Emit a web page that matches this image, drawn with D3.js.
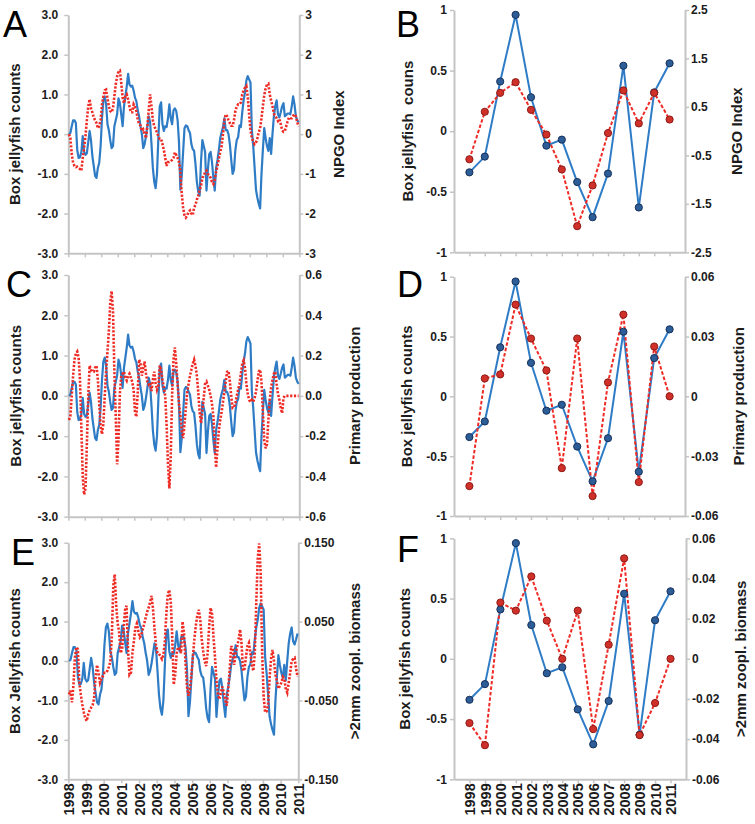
<!DOCTYPE html>
<html><head><meta charset="utf-8">
<script src="https://cdn.jsdelivr.net/npm/d3@7"></script>
<style>
body{margin:0;background:#fff}
svg text{font-family:"Liberation Sans",Arial,Helvetica,sans-serif}
</style></head><body>
<svg id="chart" width="755" height="824"></svg>
<script>
// ---------- DATA ----------
const years = [1998,1999,2000,2001,2002,2003,2004,2005,2006,2007,2008,2009,2010,2011];
const yearLabels = ["1998","1999","2000","2001","2002","2003","2004","2005","2006","2007","2008","2009","2010","2011"];

// annual means
const jellyAnnual = [-0.34,-0.21,0.41,0.96,0.28,-0.12,-0.07,-0.42,-0.71,-0.35,0.54,-0.63,0.32,0.56];
const npgoAnnual  = [-0.58,0.40,0.79,1.01,0.44,-0.07,-0.79,-1.96,-1.12,-0.04,0.84,0.16,0.79,0.24];
const ppAnnual    = [-0.045,0.009,0.011,0.046,0.029,0.013,-0.036,0.029,-0.050,0.007,0.041,-0.043,0.025,0.0];
const zooAnnual   = [-0.032,-0.043,0.028,0.024,0.041,0.019,0.0,0.024,-0.035,0.007,0.050,-0.038,-0.022,0.0];

// monthly anomalies, Jan 1998 - Dec 2011
const jellyMonthly = [
 0.0,0.03,0.2,0.35,0.35,0.28,-0.4,-0.6,-0.58,-0.45,-0.05,-0.45,
 -0.52,-0.48,-0.2,0.08,-0.15,-0.55,-0.8,-1.05,-1.1,-0.85,-0.72,-0.3,
 0.4,0.85,0.95,0.75,0.25,0.1,-0.15,-0.35,-0.3,0.2,0.35,0.5,
 0.9,0.78,0.5,0.2,0.7,0.95,1.2,1.52,1.25,1.2,1.22,1.1,
 0.92,0.83,0.6,0.45,0.2,0.0,-0.35,-0.25,-0.05,0.2,0.45,0.3,
 -0.25,-0.85,-1.2,-1.36,-1.0,-0.1,0.7,0.8,0.25,0.08,0.2,0.18,
 0.4,0.75,0.4,0.25,0.6,0.65,0.58,0.35,-0.2,-1.4,-1.05,-0.45,
 0.15,0.22,0.2,0.1,0.03,-0.25,-0.38,-0.42,-0.75,-1.2,-1.45,-1.55,
 -0.7,-0.15,-0.3,-0.45,-1.42,-0.9,-0.5,-0.45,-0.7,-1.1,-1.42,-0.85,
 -0.65,-0.4,-0.1,0.05,0.17,0.4,0.1,0.1,0.0,-0.25,-0.65,-1.0,
 -0.9,-0.4,-0.15,-0.08,0.22,0.18,0.55,0.85,1.05,1.35,1.46,1.38,
 1.3,0.1,-0.3,-0.85,-1.4,-1.6,-1.75,-1.87,-1.0,-0.4,0.15,-0.1,
 -0.3,-0.42,-0.1,-0.5,0.0,0.45,0.7,0.85,0.5,0.42,0.55,0.7,
 0.78,0.45,0.48,0.52,0.52,0.5,0.7,0.95,0.75,0.45,0.35,0.3
];
const npgoMonthly = [
 0.0,-0.1,-0.5,-0.72,-0.8,-0.83,-0.82,-0.85,-0.88,-0.92,-0.6,-0.35,
 -0.05,0.35,0.7,0.88,0.65,0.55,0.42,0.35,0.28,0.15,0.2,0.35,
 0.75,0.95,1.1,1.12,0.9,0.7,0.58,0.55,0.65,0.95,1.25,1.45,
 1.58,1.6,1.3,0.92,0.78,0.95,1.0,0.88,0.7,0.55,0.55,0.75,
 0.68,0.58,0.38,0.25,0.22,0.08,0.12,0.0,-0.1,0.2,0.6,1.0,
 0.7,0.35,0.2,0.12,0.04,-0.06,-0.12,-0.12,-0.25,-0.4,-0.6,-0.8,
 -0.7,-0.7,-0.68,-0.65,-0.6,-0.46,-0.52,-0.6,-0.7,-0.95,-1.5,-1.85,
 -2.04,-2.1,-2.05,-1.95,-1.92,-2.0,-2.04,-1.85,-1.78,-1.65,-1.55,-1.42,
 -1.3,-1.1,-1.05,-0.95,-0.92,-1.0,-1.04,-1.1,-1.2,-1.25,-1.15,-0.95,
 -0.8,-0.62,-0.45,-0.3,0.0,0.35,0.5,0.45,0.35,0.28,0.21,0.21,
 0.35,0.58,0.7,0.75,0.75,0.8,1.0,1.1,1.17,1.21,0.95,0.5,
 0.1,-0.1,-0.18,-0.25,-0.21,-0.1,0.05,0.15,0.4,0.7,0.98,1.15,
 1.25,1.27,1.0,0.85,0.7,0.52,0.45,0.4,0.33,0.38,0.25,0.1,
 0.06,0.08,0.2,0.32,0.42,0.4,0.4,0.46,0.5,0.45,0.3,0.2
];
const ppMonthly = [
 -0.12,-0.10,0.0,0.10,0.18,0.21,0.22,0.19,0.08,-0.16,-0.40,-0.49,
 -0.46,-0.24,0.0,0.15,0.13,0.12,0.12,0.14,0.15,0.08,-0.04,-0.15,
 -0.19,-0.14,0.0,0.12,0.22,0.32,0.46,0.52,0.42,0.12,-0.10,-0.34,
 -0.22,0.01,0.10,0.11,0.12,0.09,0.076,0.10,0.11,0.09,0.07,0.03,
 -0.08,-0.104,0.02,0.18,0.16,0.10,0.14,0.17,0.11,0.07,0.056,0.066,
 0.024,0.08,0.12,0.064,0.03,0.05,0.15,0.13,0.08,0.04,0.0,-0.15,
 -0.34,-0.46,-0.30,0.0,0.18,0.24,0.16,0.06,-0.04,-0.10,-0.17,-0.21,
 -0.14,-0.06,0.02,0.06,0.10,0.13,0.16,0.18,0.15,0.10,0.02,-0.08,
 -0.136,-0.08,-0.01,0.06,0.07,0.05,0.03,0.0,-0.04,-0.10,-0.24,-0.356,
 -0.26,-0.17,-0.12,-0.08,-0.03,0.02,0.07,0.12,0.124,0.07,0.0,-0.06,
 -0.056,-0.04,0.0,0.03,0.06,0.11,0.16,0.176,0.14,0.06,0.01,-0.02,
 -0.03,-0.02,-0.03,-0.01,0.02,0.07,0.12,0.13,0.07,-0.08,-0.22,-0.26,
 -0.24,-0.12,-0.02,0.04,0.08,0.11,0.12,0.06,0.01,-0.02,-0.06,-0.086,
 -0.01,0.0,0.0,0.0,0.0,0.0,0.0,0.0,0.0,0.0,0.0,0.0
];
// >2mm zooplankton biomass, Jan 1998 - Dec 2010
const zooMonthly = [
 -0.0425,-0.0375,-0.0525,-0.03,0.005,0.0175,0.015,-0.0275,-0.0425,-0.055,-0.065,-0.0725,
 -0.076,-0.0675,-0.0625,-0.059,-0.056,-0.0475,-0.02,-0.005,-0.015,-0.0275,-0.0225,-0.019,
 -0.015,-0.015,-0.0125,-0.0075,-0.001,0.03,0.095,0.11,0.07,0.0475,0.036,0.01,
 0.015,0.04,0.065,0.07,0.015,-0.0175,-0.015,0.01,0.025,0.0425,0.0475,0.0375,
 0.03,0.0325,0.04,0.0475,0.055,0.0625,0.0675,0.075,0.0825,0.065,0.04,0.02,
 0.01,0.009,0.006,0.0025,0.0075,0.025,0.06,0.085,0.09,0.075,0.03,-0.03,
 -0.0175,0.01,0.0175,0.015,0.01,0.05,0.035,-0.0025,-0.0325,-0.044,-0.035,-0.0175,
 0.005,0.0275,0.045,0.0575,0.065,0.0525,0.0275,0.0125,0.0,-0.0065,0.01,0.0425,
 0.0675,0.06,0.03,0.005,-0.025,-0.0425,-0.0485,-0.04,-0.0325,-0.04,-0.05,-0.0565,
 -0.035,-0.01,0.019,0.015,-0.005,0.01,0.0175,0.0275,0.04,0.0225,-0.0125,-0.01,
 0.005,0.019,0.023,0.01,-0.005,-0.0125,0.01,0.075,0.13,0.149,0.11,0.01,
 -0.045,-0.065,-0.064,-0.055,-0.0225,0.0025,0.014,0.0,-0.0175,-0.025,-0.035,-0.0315,
 -0.0275,-0.02,-0.0225,-0.035,-0.04,-0.0275,-0.015,0.0,0.0025,0.004,-0.01,-0.02
];

// tick values / labels
const monthlyLeftTicks = [3,2,1,0,-1,-2,-3];
const monthlyLeftLabels = ["3.0","2.0","1.0","0.0","-1.0","-2.0","-3.0"];
const annualLeftTicks = [1,0.5,0,-0.5,-1];
const annualLeftLabels = ["1","0.5","0","-0.5","-1"];
const npgoMonthlyTicks = [3,2,1,0,-1,-2,-3];
const npgoMonthlyLabels = ["3","2","1","0","-1","-2","-3"];
const ppMonthlyTicks = [0.6,0.4,0.2,0,-0.2,-0.4,-0.6];
const ppMonthlyLabels = ["0.6","0.4","0.2","0.0","-0.2","-0.4","-0.6"];
const zooMonthlyTicks = [0.15,0.05,-0.05,-0.15];
const zooMonthlyLabels = ["0.150","0.050","-0.050","-0.150"];
const npgoAnnualTicks = [2.5,1.5,0.5,-0.5,-1.5,-2.5];
const npgoAnnualLabels = ["2.5","1.5","0.5","-0.5","-1.5","-2.5"];
const ppAnnualTicks = [0.06,0.03,0,-0.03,-0.06];
const ppAnnualLabels = ["0.06","0.03","0","-0.03","-0.06"];
const zooAnnualTicks = [0.06,0.04,0.02,0,-0.02,-0.04,-0.06];
const zooAnnualLabels = ["0.06","0.04","0.02","0","-0.02","-0.04","-0.06"];

// ---------- DRAWING ----------
const svg = d3.select("#chart");
const GRAY = "#c4c4c4";
const BLUE = "#2f7cc6";
const RED = "#ee2b25";
const TXT = "#1c1c1c";

function styleAxis(g){
  g.attr("font-family", null).attr("font-size", null);
  g.select(".domain").attr("stroke", GRAY).attr("stroke-width", 2);
  g.selectAll(".tick line").attr("stroke", GRAY).attr("stroke-width", 1.5);
  g.selectAll(".tick text").attr("fill", TXT).style("font-size","12px").style("font-weight","bold");
}

function drawFrame(p){
  const yL = d3.scaleLinear().domain([p.leftTicks[p.leftTicks.length-1], p.leftTicks[0]]).range([p.bottom, p.top]);
  const yR = d3.scaleLinear().domain(p.rightDomain).range([p.bottom, p.top]);
  // bottom axis
  const gx = svg.append("g").attr("transform", `translate(0,${p.bottom})`)
    .call(d3.axisBottom(p.xAxis).tickValues(p.xTicks)
      .tickFormat(p.xLabels ? ((d,i)=>p.xLabels[i]) : "")
      .tickSize(4).tickSizeOuter(0));
  styleAxis(gx);
  if (p.xLabels){
    gx.selectAll(".tick text").attr("transform","rotate(-90)")
      .attr("text-anchor","end").attr("x",-4).attr("y",0).attr("dy","0.36em")
      .style("font-size","14.5px");
  }
  // left axis
  const gl = svg.append("g").attr("transform", `translate(${p.left},0)`)
    .call(d3.axisLeft(yL).tickValues(p.leftTicks).tickFormat((d,i)=>p.leftLabels[i])
      .tickSize(4).tickSizeOuter(0).tickPadding(p.lpad));
  styleAxis(gl);
  // right axis
  const gr = svg.append("g").attr("transform", `translate(${p.right},0)`)
    .call(d3.axisRight(yR).tickValues(p.rightTicks).tickFormat((d,i)=>p.rightLabels[i])
      .tickSize(4).tickSizeOuter(0).tickPadding(p.rpad));
  styleAxis(gr);
  const cy = (p.top + p.bottom) / 2;
  svg.append("text").attr("transform", `translate(${p.ltx},${cy}) rotate(-90)`)
    .attr("text-anchor","middle").attr("dy","0.36em")
    .style("font-size","15px").style("font-weight","bold").style("white-space","pre")
    .attr("fill", TXT).text(p.leftTitle);
  svg.append("text").attr("transform", `translate(${p.rtx},${cy}) rotate(-90)`)
    .attr("text-anchor","middle").attr("dy","0.36em")
    .style("font-size","15px").style("font-weight","bold")
    .attr("fill", TXT).text(p.rightTitle);
  svg.append("text").attr("x", p.lx).attr("y", p.ly)
    .style("font-size","36px").attr("fill","#000").text(p.letter);
  return {yL, yR};
}

function monthlyPanel(p){
  const {yL, yR} = drawFrame(p);
  const n = p.red.length;
  const xm = d3.scaleLinear().domain([-0.5, n - 0.5]).range([p.left, p.right]);
  const blue = jellyMonthly.slice(0, n);
  svg.append("path").datum(blue)
    .attr("fill","none").attr("stroke",BLUE).attr("stroke-width",2.2).attr("stroke-linejoin","round")
    .attr("d", d3.line().x((d,i)=>xm(i)).y(d=>yL(d)));
  svg.append("path").datum(p.red)
    .attr("fill","none").attr("stroke",RED).attr("stroke-width",2.6)
    .attr("stroke-dasharray","2.2,1.6")
    .attr("d", d3.line().x((d,i)=>xm(i)).y(d=>yR(d)));
}

function annualPanel(p){
  const {yL, yR} = drawFrame(p);
  const x = p.xAxis;
  svg.append("path").datum(jellyAnnual)
    .attr("fill","none").attr("stroke",BLUE).attr("stroke-width",2)
    .attr("d", d3.line().x((d,i)=>x(years[i])).y(d=>yL(d)));
  svg.append("path").datum(p.red)
    .attr("fill","none").attr("stroke",RED).attr("stroke-width",2)
    .attr("stroke-dasharray","3.5,2")
    .attr("d", d3.line().x((d,i)=>x(years[i])).y(d=>yR(d)));
  svg.append("g").selectAll("circle").data(jellyAnnual).join("circle")
    .attr("cx",(d,i)=>x(years[i])).attr("cy",d=>yL(d)).attr("r",3.6)
    .attr("fill","#2d5d97").attr("stroke","#16305a").attr("stroke-width",1);
  svg.append("g").selectAll("circle").data(p.red).join("circle")
    .attr("cx",(d,i)=>x(years[i])).attr("cy",d=>yR(d)).attr("r",3.6)
    .attr("fill","#cf3029").attr("stroke","#8e1a16").attr("stroke-width",1);
}

const LL = 68.3, LR = 299.3;
const RL = 454, RR = 685;
const yearsPlus = years.concat([2012]);

monthlyPanel({letter:"A", lx:3, ly:37, left:LL, right:LR, top:15, bottom:253.3,
  xAxis:d3.scaleLinear().domain([1998,2012]).range([LL,LR]), xTicks:yearsPlus, xLabels:null,
  leftTicks:monthlyLeftTicks, leftLabels:monthlyLeftLabels, lpad:6,
  rightDomain:[-3,3], rightTicks:npgoMonthlyTicks, rightLabels:npgoMonthlyLabels, rpad:2,
  leftTitle:"Box jellyfish counts", ltx:15, rightTitle:"NPGO Index", rtx:339, red:npgoMonthly});

monthlyPanel({letter:"C", lx:6, ly:297, left:LL, right:LR, top:275, bottom:516.7,
  xAxis:d3.scaleLinear().domain([1998,2012]).range([LL,LR]), xTicks:yearsPlus, xLabels:null,
  leftTicks:monthlyLeftTicks, leftLabels:monthlyLeftLabels, lpad:6,
  rightDomain:[-0.6,0.6], rightTicks:ppMonthlyTicks, rightLabels:ppMonthlyLabels, rpad:2,
  leftTitle:"Box jellyfish counts", ltx:16, rightTitle:"Primary production", rtx:355, red:ppMonthly});

monthlyPanel({letter:"E", lx:11, ly:565, left:LL, right:298.3, top:542.7, bottom:779.3,
  xAxis:d3.scaleLinear().domain([1998,2011]).range([LL,298.3]), xTicks:years, xLabels:yearLabels,
  leftTicks:monthlyLeftTicks, leftLabels:monthlyLeftLabels, lpad:6,
  rightDomain:[-0.15,0.15], rightTicks:zooMonthlyTicks, rightLabels:zooMonthlyLabels, rpad:2,
  leftTitle:"Box Jellyfish counts", ltx:15, rightTitle:">2mm zoopl. biomass", rtx:355, red:zooMonthly});

annualPanel({letter:"B", lx:396, ly:37, left:RL, right:RR, top:10, bottom:252.3,
  xAxis:d3.scaleLinear().domain([1997,2012]).range([RL,RR]), xTicks:years, xLabels:null,
  leftTicks:annualLeftTicks, leftLabels:annualLeftLabels, lpad:3,
  rightDomain:[-2.5,2.5], rightTicks:npgoAnnualTicks, rightLabels:npgoAnnualLabels, rpad:2,
  leftTitle:"Box jellyfish  couns", ltx:408, rightTitle:"NPGO Index", rtx:737, red:npgoAnnual});

annualPanel({letter:"D", lx:397, ly:297, left:RL, right:RR, top:276.7, bottom:516,
  xAxis:d3.scaleLinear().domain([1997,2012]).range([RL,RR]), xTicks:years, xLabels:null,
  leftTicks:annualLeftTicks, leftLabels:annualLeftLabels, lpad:3,
  rightDomain:[-0.06,0.06], rightTicks:ppAnnualTicks, rightLabels:ppAnnualLabels, rpad:2,
  leftTitle:"Box jellyfish counts", ltx:407, rightTitle:"Primary production", rtx:739, red:ppAnnual});

annualPanel({letter:"F", lx:397, ly:562, left:RL, right:686, top:538.3, bottom:779.3,
  xAxis:d3.scaleLinear().domain([1997,2012]).range([RL,686]), xTicks:years, xLabels:yearLabels,
  leftTicks:annualLeftTicks, leftLabels:annualLeftLabels, lpad:3,
  rightDomain:[-0.06,0.06], rightTicks:zooAnnualTicks, rightLabels:zooAnnualLabels, rpad:2,
  leftTitle:"Box jellyfish counts", ltx:405, rightTitle:">2mm zoopl. biomass", rtx:741, red:zooAnnual});
</script>
</body></html>
